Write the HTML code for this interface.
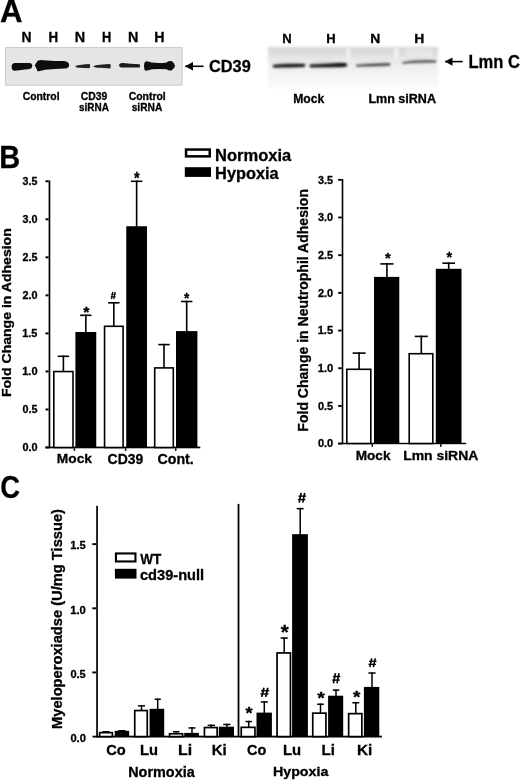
<!DOCTYPE html>
<html><head><meta charset="utf-8"><style>
html,body{margin:0;padding:0;background:#fff;}
body{width:520px;height:781px;overflow:hidden;}
svg{display:block;will-change:transform;filter:blur(0.3px);}
text{font-family:"Liberation Sans",sans-serif;font-weight:bold;fill:#000;stroke:#000;stroke-width:0.3px;}
</style></head><body>
<svg width="520" height="781" viewBox="0 0 520 781">
<rect width="520" height="781" fill="#fff"/>

<defs>
 <filter id="bl" x="-20%" y="-50%" width="140%" height="200%"><feGaussianBlur stdDeviation="0.7"/></filter>
 <filter id="bl2" x="-20%" y="-50%" width="140%" height="200%"><feGaussianBlur stdDeviation="1.1"/></filter>
 <filter id="bl3" x="-20%" y="-80%" width="140%" height="260%"><feGaussianBlur stdDeviation="0.85"/></filter>
 <filter id="bl4" x="-10%" y="-20%" width="120%" height="140%"><feGaussianBlur stdDeviation="1.6"/></filter>
 <filter id="bl5" x="-30%" y="-150%" width="160%" height="400%"><feGaussianBlur stdDeviation="1.8"/></filter>
 <linearGradient id="rg" x1="0" y1="0" x2="0" y2="1">
  <stop offset="0" stop-color="#d5d5d5"/><stop offset="0.12" stop-color="#dadada"/><stop offset="0.25" stop-color="#e5e5e5"/>
  <stop offset="0.45" stop-color="#eeeeee"/><stop offset="0.7" stop-color="#f4f4f4"/><stop offset="1" stop-color="#fafafa"/>
 </linearGradient>
</defs>
<rect x="5.6" y="47.6" width="176.5" height="37.6" fill="#e5e5e5" stroke="#c6c6c6" stroke-width="0.9"/>
<g filter="url(#bl)" fill="#111">
 <path d="M11.6,66.8 Q11.6,63 15,62.9 L29.5,63 Q32.2,63.3 32.2,65.8 Q32.2,68.6 29.5,68.9 L15,70.7 Q11.6,70.9 11.6,66.8 Z"/>
 <path d="M34.8,65.2 L37.6,60.8 Q40,59.6 44,60.2 Q55,61 64,61.1 Q69,61.8 69.2,65 Q69,68.4 65,68.6 Q55,69.2 45,69.8 Q40,71 37.8,71.4 Z"/>
 <path d="M75.3,66.4 Q76,65 80,64.9 Q86,64.4 89.6,64.1 Q91,66.2 89.6,68.3 Q84,68 80,67.8 Q76,67.8 75.3,66.4 Z" fill="#222"/>
 <path d="M93.3,66.3 Q95,64.9 100,64.8 Q106,64.4 110.2,64.1 Q111.6,66.3 110.2,68.4 Q104,68.1 100,67.8 Q95,67.8 93.3,66.3 Z" fill="#222"/>
 <path d="M119,65 Q119.4,62.8 123,62.9 Q130,63.8 139.6,64.2 Q140.6,66 139.6,67.6 Q130,67.5 123,67.6 Q119.2,67.6 119,65 Z" fill="#1a1a1a"/>
 <path d="M144,65.8 Q144,61.2 147,61.3 Q151,62.8 158,63.1 Q164,63.1 166.5,62.4 Q169,60.6 171.5,61.1 Q174.9,63.3 175.1,65.8 Q174.7,68.6 171.5,70.5 Q169,71 166.5,69.3 Q160,68.8 152,69.2 Q147,71 145,70.6 Q144,69.4 144,65.8 Z"/>
</g>
<rect x="268" y="47" width="170" height="41" fill="url(#rg)" filter="url(#bl4)"/>
<g filter="url(#bl2)" fill="#efefef">
 <rect x="346.5" y="47" width="4" height="13"/><rect x="394" y="47" width="4.5" height="13"/><rect x="405" y="49" width="28" height="8" rx="4" opacity="0.5"/>
</g>
<g filter="url(#bl5)" fill="#c4c4c4">
 <ellipse cx="289" cy="65.4" rx="17" ry="3.4"/>
 <ellipse cx="328.5" cy="65" rx="19" ry="3.6"/>
 <ellipse cx="373" cy="64.8" rx="17" ry="2.8" fill="#d4d4d4"/>
 <ellipse cx="419" cy="61.6" rx="17" ry="2.8" fill="#d8d8d8"/>
</g>
<g filter="url(#bl3)">
 <path d="M273,65.2 Q285,63.8 304.5,64.1 Q305.6,65.5 304.2,66.8 Q285,67.2 274,67.4 Q272.4,66.4 273,65.2 Z" fill="#0a0a0a"/>
 <path d="M309.8,64.8 Q328,63.8 342,62.9 Q347.2,62.8 347.2,64.8 Q347,66.6 344,66.8 Q328,67 310.5,67.2 Q309,66.1 309.8,64.8 Z" fill="#080808"/>
 <path d="M356,65 Q372,63.7 390,63.3 Q391,64.4 389.5,65.6 Q372,66.3 357,66.5 Q355.4,65.8 356,65 Z" fill="#333"/>
 <path d="M402.3,62.2 Q418,59.5 436,60.6 Q437,61.7 435.6,62.6 Q418,61.9 403,63.7 Q401.8,63.1 402.3,62.2 Z" fill="#4a4a4a"/>
</g>
<path d="M185.2,66.3 L203.6,66.3" stroke="#000" stroke-width="1.6"/>
<path d="M185,66.3 L193,62 L193,70.6 Z" fill="#000"/>
<path d="M445,61.6 L462.7,61.6" stroke="#000" stroke-width="1.6"/>
<path d="M444.8,61.6 L452.5,57.5 L452.5,65.7 Z" fill="#000"/>

<text transform="translate(0.12,21.85) scale(0.981,1)" font-size="31.88">A</text>
<text transform="translate(-0.74,167.60) scale(0.900,1)" font-size="32.25">B</text>
<text transform="translate(0.30,498.29) scale(0.876,1)" font-size="31.27">C</text>
<text transform="translate(21.45,41.85) scale(0.969,1)" font-size="14.35">N</text>
<text transform="translate(48.58,41.85) scale(0.933,1)" font-size="14.35">H</text>
<text transform="translate(74.71,41.85) scale(1.004,1)" font-size="14.35">N</text>
<text transform="translate(101.91,41.85) scale(0.898,1)" font-size="14.35">H</text>
<text transform="translate(128.01,41.85) scale(1.004,1)" font-size="14.35">N</text>
<text transform="translate(154.22,41.85) scale(0.992,1)" font-size="14.35">H</text>
<text transform="translate(22.74,99.85) scale(1.002,1)" font-size="10.34">Control</text>
<text transform="translate(80.74,100.04) scale(0.956,1)" font-size="10.85">CD39</text>
<text transform="translate(79.00,110.85) scale(0.977,1)" font-size="10.20">siRNA</text>
<text transform="translate(128.63,99.85) scale(1.011,1)" font-size="10.34">Control</text>
<text transform="translate(131.69,110.95) scale(1.000,1)" font-size="10.20">siRNA</text>
<text transform="translate(209.00,72.48) scale(0.943,1)" font-size="17.32">CD39</text>
<text transform="translate(282.30,43.15) scale(1.023,1)" font-size="12.75">N</text>
<text transform="translate(326.30,43.15) scale(1.023,1)" font-size="12.75">H</text>
<text transform="translate(370.25,43.15) scale(1.090,1)" font-size="12.75">N</text>
<text transform="translate(414.25,43.15) scale(1.090,1)" font-size="12.75">H</text>
<text transform="translate(293.16,102.72) scale(0.969,1)" font-size="12.52">Mock</text>
<text transform="translate(368.43,102.72) scale(1.002,1)" font-size="12.52">Lmn siRNA</text>
<text transform="translate(468.47,68.27) scale(0.940,1)" font-size="17.61">Lmn C</text>
<rect x="48.60" y="180.45" width="1.70" height="267.85" fill="#000"/>
<rect x="45.50" y="446.50" width="3.10" height="2.00" fill="#000"/>
<text transform="translate(22.41,451.10) scale(1.047,1)" font-size="10.42">0.0</text>
<rect x="45.50" y="408.47" width="3.10" height="2.00" fill="#000"/>
<text transform="translate(22.42,413.06) scale(1.035,1)" font-size="10.42">0.5</text>
<rect x="45.50" y="370.43" width="3.10" height="2.00" fill="#000"/>
<text transform="translate(22.18,375.03) scale(1.064,1)" font-size="10.42">1.0</text>
<rect x="45.50" y="332.39" width="3.10" height="2.00" fill="#000"/>
<text transform="translate(22.19,336.99) scale(1.037,1)" font-size="10.57">1.5</text>
<rect x="45.50" y="294.36" width="3.10" height="2.00" fill="#000"/>
<text transform="translate(22.47,298.96) scale(1.043,1)" font-size="10.42">2.0</text>
<rect x="45.50" y="256.33" width="3.10" height="2.00" fill="#000"/>
<text transform="translate(22.47,260.92) scale(1.032,1)" font-size="10.42">2.5</text>
<rect x="45.50" y="218.29" width="3.10" height="2.00" fill="#000"/>
<text transform="translate(22.58,222.89) scale(1.035,1)" font-size="10.42">3.0</text>
<rect x="45.50" y="180.25" width="3.10" height="2.00" fill="#000"/>
<text transform="translate(22.58,184.85) scale(1.024,1)" font-size="10.42">3.5</text>
<rect x="45.50" y="446.60" width="154.80" height="1.70" fill="#000"/>
<rect x="73.60" y="448.30" width="1.60" height="2.50" fill="#000"/>
<rect x="124.80" y="448.30" width="1.60" height="2.50" fill="#000"/>
<rect x="174.90" y="448.30" width="1.60" height="2.50" fill="#000"/>
<rect x="62.60" y="355.50" width="1.60" height="16.25" fill="#000"/>
<rect x="57.70" y="355.50" width="11.40" height="1.60" fill="#000"/>
<rect x="53.80" y="371.55" width="19.20" height="75.95" fill="#fff" stroke="#000" stroke-width="1.6"/>
<rect x="85.03" y="314.50" width="1.60" height="18.50" fill="#000"/>
<rect x="80.12" y="314.50" width="11.40" height="1.60" fill="#000"/>
<rect x="75.40" y="332.00" width="20.85" height="115.50" fill="#000"/>
<rect x="113.03" y="302.00" width="1.60" height="24.50" fill="#000"/>
<rect x="108.12" y="302.00" width="11.40" height="1.60" fill="#000"/>
<rect x="104.55" y="326.30" width="18.55" height="121.20" fill="#fff" stroke="#000" stroke-width="1.6"/>
<rect x="135.82" y="180.50" width="1.60" height="46.75" fill="#000"/>
<rect x="130.93" y="180.50" width="11.40" height="1.60" fill="#000"/>
<rect x="126.25" y="226.25" width="20.75" height="221.25" fill="#000"/>
<rect x="163.20" y="343.80" width="1.60" height="24.30" fill="#000"/>
<rect x="158.30" y="343.80" width="11.40" height="1.60" fill="#000"/>
<rect x="154.70" y="367.90" width="18.60" height="79.60" fill="#fff" stroke="#000" stroke-width="1.6"/>
<rect x="185.90" y="300.70" width="1.60" height="31.40" fill="#000"/>
<rect x="181.00" y="300.70" width="11.40" height="1.60" fill="#000"/>
<rect x="176.00" y="331.10" width="21.40" height="116.40" fill="#000"/>
<text transform="translate(83.17,317.26) scale(1.165,1)" font-size="13.78">*</text>
<line x1="112.78" y1="291.90" x2="111.53" y2="299.10" stroke="#000" stroke-width="1.20"/>
<line x1="115.07" y1="291.90" x2="113.82" y2="299.10" stroke="#000" stroke-width="1.20"/>
<line x1="111.12" y1="294.28" x2="115.90" y2="294.28" stroke="#000" stroke-width="1.10"/>
<line x1="110.70" y1="296.80" x2="115.48" y2="296.80" stroke="#000" stroke-width="1.10"/>
<text transform="translate(134.08,183.75) scale(0.900,1)" font-size="16.08">*</text>
<text transform="translate(184.08,302.73) scale(0.955,1)" font-size="14.32">*</text>
<text transform="translate(56.86,463.42) scale(1.063,1)" font-size="12.93">Mock</text>
<text transform="translate(107.59,463.70) scale(0.943,1)" font-size="14.79">CD39</text>
<text transform="translate(157.48,463.70) scale(0.962,1)" font-size="14.79">Cont.</text>
<text transform="translate(11.00,397.06) rotate(-90) scale(1.127,1)" font-size="12.48">Fold Change in Adhesion</text>
<rect x="186.05" y="149.55" width="23.70" height="6.80" fill="#fff" stroke="#000" stroke-width="2.5"/>
<rect x="184.80" y="167.20" width="26.20" height="9.70" fill="#000"/>
<text transform="translate(215.08,160.89) scale(1.020,1)" font-size="16.19">Normoxia</text>
<text transform="translate(215.09,178.85) scale(1.040,1)" font-size="15.72">Hypoxia</text>
<rect x="341.70" y="179.00" width="1.60" height="265.19" fill="#000"/>
<rect x="338.20" y="442.65" width="3.50" height="1.90" fill="#000"/>
<text transform="translate(317.91,447.29) scale(1.027,1)" font-size="10.70">0.0</text>
<rect x="338.20" y="404.97" width="3.50" height="1.90" fill="#000"/>
<text transform="translate(317.92,409.61) scale(1.015,1)" font-size="10.70">0.5</text>
<rect x="338.20" y="367.28" width="3.50" height="1.90" fill="#000"/>
<text transform="translate(317.68,371.92) scale(1.043,1)" font-size="10.70">1.0</text>
<rect x="338.20" y="329.60" width="3.50" height="1.90" fill="#000"/>
<text transform="translate(317.69,334.24) scale(1.016,1)" font-size="10.86">1.5</text>
<rect x="338.20" y="291.91" width="3.50" height="1.90" fill="#000"/>
<text transform="translate(317.97,296.55) scale(1.023,1)" font-size="10.70">2.0</text>
<rect x="338.20" y="254.23" width="3.50" height="1.90" fill="#000"/>
<text transform="translate(317.97,258.87) scale(1.011,1)" font-size="10.70">2.5</text>
<rect x="338.20" y="216.54" width="3.50" height="1.90" fill="#000"/>
<text transform="translate(318.08,221.18) scale(1.015,1)" font-size="10.70">3.0</text>
<rect x="338.20" y="178.86" width="3.50" height="1.90" fill="#000"/>
<text transform="translate(318.08,183.50) scale(1.004,1)" font-size="10.70">3.5</text>
<rect x="338.20" y="442.80" width="128.00" height="1.40" fill="#000"/>
<rect x="371.55" y="444.20" width="1.50" height="2.60" fill="#000"/>
<rect x="440.05" y="444.20" width="1.50" height="2.60" fill="#000"/>
<rect x="358.30" y="352.30" width="1.60" height="17.20" fill="#000"/>
<rect x="352.60" y="352.30" width="13.00" height="1.60" fill="#000"/>
<rect x="346.80" y="369.30" width="24.00" height="74.20" fill="#fff" stroke="#000" stroke-width="1.6"/>
<rect x="386.10" y="263.10" width="1.60" height="14.80" fill="#000"/>
<rect x="380.30" y="263.10" width="13.20" height="1.60" fill="#000"/>
<rect x="374.00" y="276.90" width="25.30" height="166.60" fill="#000"/>
<rect x="420.50" y="335.60" width="1.60" height="18.30" fill="#000"/>
<rect x="414.80" y="335.60" width="13.00" height="1.60" fill="#000"/>
<rect x="409.20" y="353.70" width="23.60" height="89.80" fill="#fff" stroke="#000" stroke-width="1.6"/>
<rect x="447.90" y="262.40" width="1.60" height="7.40" fill="#000"/>
<rect x="442.40" y="262.40" width="12.60" height="1.60" fill="#000"/>
<rect x="435.80" y="268.80" width="25.70" height="174.70" fill="#000"/>
<text transform="translate(384.88,263.11) scale(0.991,1)" font-size="14.86">*</text>
<text transform="translate(446.58,261.91) scale(0.974,1)" font-size="14.86">*</text>
<text transform="translate(355.67,459.62) scale(1.011,1)" font-size="13.47">Mock</text>
<text transform="translate(403.14,459.92) scale(1.080,1)" font-size="12.93">Lmn siRNA</text>
<text transform="translate(308.10,431.66) rotate(-90) scale(0.974,1)" font-size="14.41">Fold Change in Neutrophil Adhesion</text>
<rect x="96.20" y="505.80" width="1.70" height="231.70" fill="#000"/>
<rect x="92.30" y="671.50" width="3.90" height="1.90" fill="#000"/>
<rect x="92.30" y="607.35" width="3.90" height="1.90" fill="#000"/>
<rect x="92.30" y="543.20" width="3.90" height="1.90" fill="#000"/>
<text transform="translate(70.40,741.84) scale(1.002,1)" font-size="11.13">0.0</text>
<text transform="translate(70.41,677.69) scale(0.990,1)" font-size="11.13">0.5</text>
<text transform="translate(70.17,613.54) scale(1.017,1)" font-size="11.13">1.0</text>
<text transform="translate(70.18,549.39) scale(0.991,1)" font-size="11.29">1.5</text>
<rect x="92.50" y="735.70" width="289.40" height="1.80" fill="#000"/>
<rect x="237.60" y="503.90" width="1.80" height="232.10" fill="#000"/>
<rect x="105.25" y="731.00" width="1.50" height="1.80" fill="#000"/>
<rect x="102.50" y="731.00" width="7.00" height="1.50" fill="#000"/>
<rect x="99.65" y="732.65" width="12.70" height="3.95" fill="#fff" stroke="#000" stroke-width="1.7"/>
<rect x="121.15" y="730.00" width="1.50" height="1.80" fill="#000"/>
<rect x="118.40" y="730.00" width="7.00" height="1.50" fill="#000"/>
<rect x="114.70" y="730.80" width="14.50" height="5.80" fill="#000"/>
<rect x="140.75" y="705.10" width="1.50" height="5.60" fill="#000"/>
<rect x="138.00" y="705.10" width="7.00" height="1.50" fill="#000"/>
<rect x="134.75" y="710.55" width="12.50" height="26.05" fill="#fff" stroke="#000" stroke-width="1.7"/>
<rect x="156.95" y="698.50" width="1.50" height="11.30" fill="#000"/>
<rect x="154.60" y="698.50" width="6.20" height="1.50" fill="#000"/>
<rect x="149.60" y="708.80" width="14.60" height="27.80" fill="#000"/>
<rect x="175.45" y="731.00" width="1.50" height="2.90" fill="#000"/>
<rect x="173.00" y="731.00" width="6.40" height="1.50" fill="#000"/>
<rect x="169.55" y="733.75" width="13.00" height="2.85" fill="#fff" stroke="#000" stroke-width="1.7"/>
<rect x="191.25" y="727.20" width="1.50" height="6.70" fill="#000"/>
<rect x="188.50" y="727.20" width="7.00" height="1.50" fill="#000"/>
<rect x="184.20" y="732.90" width="14.70" height="3.70" fill="#000"/>
<rect x="210.55" y="724.60" width="1.50" height="3.10" fill="#000"/>
<rect x="207.60" y="724.60" width="7.40" height="1.50" fill="#000"/>
<rect x="204.45" y="727.55" width="12.70" height="9.05" fill="#fff" stroke="#000" stroke-width="1.7"/>
<rect x="226.15" y="723.70" width="1.50" height="4.00" fill="#000"/>
<rect x="223.20" y="723.70" width="7.40" height="1.50" fill="#000"/>
<rect x="218.80" y="726.70" width="15.20" height="9.90" fill="#000"/>
<rect x="247.95" y="720.80" width="1.50" height="6.70" fill="#000"/>
<rect x="245.50" y="720.80" width="6.40" height="1.50" fill="#000"/>
<rect x="241.25" y="727.35" width="13.70" height="9.25" fill="#fff" stroke="#000" stroke-width="1.7"/>
<rect x="263.55" y="701.20" width="1.50" height="12.40" fill="#000"/>
<rect x="260.80" y="701.20" width="7.00" height="1.50" fill="#000"/>
<rect x="256.50" y="712.60" width="15.40" height="24.00" fill="#000"/>
<rect x="283.45" y="637.30" width="1.50" height="15.80" fill="#000"/>
<rect x="280.60" y="637.30" width="7.20" height="1.50" fill="#000"/>
<rect x="277.05" y="652.95" width="13.40" height="83.65" fill="#fff" stroke="#000" stroke-width="1.7"/>
<rect x="299.45" y="507.90" width="1.50" height="27.30" fill="#000"/>
<rect x="296.70" y="507.90" width="7.00" height="1.50" fill="#000"/>
<rect x="292.10" y="534.20" width="15.80" height="202.40" fill="#000"/>
<rect x="319.75" y="703.50" width="1.50" height="9.80" fill="#000"/>
<rect x="317.20" y="703.50" width="6.60" height="1.50" fill="#000"/>
<rect x="312.75" y="713.15" width="13.20" height="23.45" fill="#fff" stroke="#000" stroke-width="1.7"/>
<rect x="335.25" y="689.40" width="1.50" height="7.30" fill="#000"/>
<rect x="332.70" y="689.40" width="6.60" height="1.50" fill="#000"/>
<rect x="328.10" y="695.70" width="15.10" height="40.90" fill="#000"/>
<rect x="355.05" y="702.00" width="1.50" height="11.80" fill="#000"/>
<rect x="352.40" y="702.00" width="6.80" height="1.50" fill="#000"/>
<rect x="348.65" y="713.65" width="13.20" height="22.95" fill="#fff" stroke="#000" stroke-width="1.7"/>
<rect x="371.25" y="672.30" width="1.50" height="15.60" fill="#000"/>
<rect x="368.40" y="672.30" width="7.20" height="1.50" fill="#000"/>
<rect x="363.90" y="686.90" width="15.40" height="49.70" fill="#000"/>
<text transform="translate(245.56,719.47) scale(1.158,1)" font-size="15.68">*</text>
<line x1="263.92" y1="687.70" x2="261.81" y2="696.90" stroke="#000" stroke-width="1.76"/>
<line x1="267.79" y1="687.70" x2="265.68" y2="696.90" stroke="#000" stroke-width="1.76"/>
<line x1="261.10" y1="690.74" x2="269.20" y2="690.74" stroke="#000" stroke-width="1.29"/>
<line x1="260.40" y1="693.96" x2="268.50" y2="693.96" stroke="#000" stroke-width="1.29"/>
<text transform="translate(280.65,639.10) scale(0.974,1)" font-size="21.08">*</text>
<line x1="301.14" y1="492.90" x2="299.20" y2="502.70" stroke="#000" stroke-width="1.62"/>
<line x1="304.70" y1="492.90" x2="302.76" y2="502.70" stroke="#000" stroke-width="1.62"/>
<line x1="298.55" y1="496.13" x2="306.00" y2="496.13" stroke="#000" stroke-width="1.37"/>
<line x1="297.90" y1="499.56" x2="305.35" y2="499.56" stroke="#000" stroke-width="1.37"/>
<text transform="translate(317.15,703.71) scale(1.162,1)" font-size="16.76">*</text>
<line x1="335.44" y1="673.10" x2="333.50" y2="683.40" stroke="#000" stroke-width="1.62"/>
<line x1="339.00" y1="673.10" x2="337.06" y2="683.40" stroke="#000" stroke-width="1.62"/>
<line x1="332.85" y1="676.50" x2="340.30" y2="676.50" stroke="#000" stroke-width="1.44"/>
<line x1="332.20" y1="680.10" x2="339.65" y2="680.10" stroke="#000" stroke-width="1.44"/>
<text transform="translate(353.06,702.53) scale(1.149,1)" font-size="16.49">*</text>
<line x1="371.74" y1="658.30" x2="369.80" y2="667.20" stroke="#000" stroke-width="1.62"/>
<line x1="375.30" y1="658.30" x2="373.36" y2="667.20" stroke="#000" stroke-width="1.62"/>
<line x1="369.15" y1="661.24" x2="376.60" y2="661.24" stroke="#000" stroke-width="1.25"/>
<line x1="368.50" y1="664.35" x2="375.95" y2="664.35" stroke="#000" stroke-width="1.25"/>
<text transform="translate(106.16,754.90) scale(0.990,1)" font-size="14.79">Co</text>
<text transform="translate(139.89,754.90) scale(1.014,1)" font-size="14.57">Lu</text>
<text transform="translate(178.12,754.65) scale(1.152,1)" font-size="13.79">Li</text>
<text transform="translate(211.67,754.65) scale(1.090,1)" font-size="13.79">Ki</text>
<text transform="translate(247.07,755.30) scale(0.979,1)" font-size="14.79">Co</text>
<text transform="translate(282.98,754.91) scale(1.073,1)" font-size="13.86">Lu</text>
<text transform="translate(321.57,755.25) scale(1.063,1)" font-size="14.21">Li</text>
<text transform="translate(356.96,755.25) scale(1.074,1)" font-size="14.21">Ki</text>
<text transform="translate(128.21,776.71) scale(1.039,1)" font-size="13.88">Normoxia</text>
<text transform="translate(272.92,775.74) scale(1.150,1)" font-size="12.41">Hypoxia</text>
<rect x="115.95" y="553.45" width="19.50" height="8.00" fill="#fff" stroke="#000" stroke-width="2.1"/>
<rect x="114.90" y="568.80" width="21.60" height="9.80" fill="#000"/>
<text transform="translate(140.15,564.25) scale(0.877,1)" font-size="15.51">WT</text>
<text transform="translate(139.96,580.10) scale(0.970,1)" font-size="15.10">cd39-null</text>
<text transform="translate(61.50,729.01) rotate(-90) scale(1.061,1)" font-size="13.86">Myeloperoxiadse (U/mg Tissue)</text>
</svg>
</body></html>
